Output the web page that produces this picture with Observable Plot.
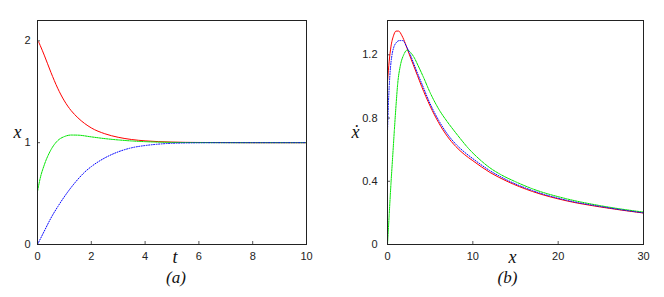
<!DOCTYPE html>
<html>
<head>
<meta charset="utf-8">
<script src="https://cdn.jsdelivr.net/npm/d3@7"></script>
<script src="https://cdn.jsdelivr.net/npm/@observablehq/plot@0.6"></script>
<style>
  html, body { margin: 0; padding: 0; background: #fff; }
  #wrap { width: 664px; height: 297px; display: flex; }
  #wrap svg { display: block; }
</style>
</head>
<body>
<div id="wrap"></div>
<script>
// ---- Panel (a): x versus t ----
const tRed   = [0, 0.05, 0.1, 0.25, 0.5, 0.75, 1, 1.25, 1.5, 2, 2.5, 3, 3.5, 4, 5, 6, 8, 10];
const xRed   = [2.0, 1.985, 1.955, 1.86, 1.69, 1.535, 1.41, 1.315, 1.245, 1.145, 1.088, 1.053, 1.031, 1.018, 1.006, 1.002, 1.0, 1.0];
const tGreen = [0, 0.1, 0.25, 0.5, 0.75, 1, 1.25, 1.5, 2, 2.5, 3, 3.5, 4, 5, 6, 8, 10];
const xGreen = [0.52, 0.65, 0.78, 0.93, 1.02, 1.06, 1.075, 1.074, 1.057, 1.04, 1.027, 1.017, 1.01, 1.003, 1.001, 1.0, 1.0];
const tBlue  = [0, 0.25, 0.5, 0.75, 1, 1.25, 1.5, 1.75, 2, 2.5, 3, 3.5, 4, 4.5, 5, 6, 7, 8, 10];
const xBlue  = [0, 0.13, 0.26, 0.37, 0.47, 0.56, 0.64, 0.71, 0.765, 0.85, 0.91, 0.95, 0.972, 0.986, 0.994, 0.999, 1.0, 1.0, 1.0];
const ticksTA = [0, 2, 4, 6, 8, 10];
const ticksXA = [0, 1, 2];

// ---- Panel (b): xdot versus x ----
const xbRed   = [0, 0.2, 0.4, 0.7, 1.0, 1.3, 1.7, 2.1, 2.5, 3, 3.5, 4, 4.5, 5, 6, 7, 8, 9, 10, 12, 14, 17, 21, 25, 30];
const vRed    = [1.03, 1.16, 1.25, 1.32, 1.35, 1.35, 1.32, 1.27, 1.21, 1.14, 1.07, 1.0, 0.935, 0.875, 0.77, 0.685, 0.62, 0.57, 0.53, 0.456, 0.400, 0.335, 0.276, 0.237, 0.199];
const xbBlue  = [0, 0.1, 0.2, 0.35, 0.5, 0.75, 1, 1.4, 1.8, 2.2, 2.6, 3, 3.5, 4, 5, 6, 7, 8, 9, 10, 12, 14, 17, 21, 25, 30];
const vBlue   = [0.71, 0.88, 1.0, 1.12, 1.19, 1.25, 1.275, 1.29, 1.29, 1.255, 1.21, 1.155, 1.085, 1.02, 0.89, 0.785, 0.70, 0.635, 0.585, 0.543, 0.467, 0.408, 0.341, 0.28, 0.24, 0.2];
const xbGreen = [0, 0.2, 0.4, 0.6, 0.8, 1.0, 1.2, 1.5, 1.9, 2.3, 2.7, 3.1, 3.6, 4.2, 5, 6, 7, 7.77, 8.5, 9.5, 10.7, 12, 13.25, 15, 17, 21, 25, 30];
const vGreen  = [0, 0.19, 0.38, 0.55, 0.72, 0.88, 1.02, 1.13, 1.2, 1.23, 1.215, 1.185, 1.13, 1.06, 0.96, 0.857, 0.777, 0.722, 0.672, 0.607, 0.543, 0.485, 0.443, 0.397, 0.352, 0.289, 0.245, 0.205];
const ticksXB = [0, 10, 20, 30];
const ticksVB = [0, 0.4, 0.8, 1.2];

const zip = (xs, ys) => xs.map((x, i) => ({x, y: ys[i]}));

const RED = "#ff0000", GREEN = "#00e600", BLUE = "#0000ff";
const serif = "'Liberation Serif', 'DejaVu Serif', serif";

function panel(opts) {
  const {W, mL, mR, mT, mB, xDom, yDom, xt, yt, series, ylab, xlab, cap, ypad, ylabDx, xlabDx, capDx} = opts;
  const H = 297;
  const fw = W - mL - mR, fh = H - mT - mB;
  return Plot.plot({
    width: W, height: H,
    marginLeft: mL, marginRight: mR, marginTop: mT, marginBottom: mB,
    x: {domain: xDom},
    y: {domain: yDom},
    style: {fontFamily: "'Liberation Sans', Arial, sans-serif", fontSize: "11px", color: "#222", background: "white", overflow: "visible"},
    marks: [
      Plot.tickX(xt, {x: d => d, insetTop: fh - 3, stroke: "#555"}),
      Plot.tickY(yt, {y: d => d, insetRight: fw - 3, stroke: "#555"}),
      ...series.map(s => Plot.line(s.data, {x: "x", y: "y", stroke: s.color, strokeWidth: 1, strokeDasharray: s.dash, curve: "monotone-x"})),
      Plot.frame({stroke: "#222", strokeWidth: 1}),
      Plot.axisX(xt, {tickSize: 0, tickPadding: 8, label: null, fontSize: 11, tickFormat: d => String(d)}),
      Plot.axisY(yt, {tickSize: 0, tickPadding: ypad, label: null, fontSize: 11, tickFormat: d => String(d)}),
      Plot.text([ylab], {text: d => d, frameAnchor: "left", dx: ylabDx, fontFamily: serif, fontStyle: "italic", fontSize: 18, fill: "#111"}),
      Plot.text([xlab], {text: d => d, frameAnchor: "bottom", dx: xlabDx, dy: 18, fontFamily: serif, fontStyle: "italic", fontSize: 18, fill: "#111"}),
      Plot.text([cap], {text: d => d, frameAnchor: "bottom", dx: capDx, dy: 38, fontFamily: serif, fontStyle: "italic", fontSize: 17, fill: "#111"})
    ]
  });
}

const wrap = document.getElementById("wrap");
wrap.append(panel({
  W: 332, mL: 37, mR: 26, mT: 20, mB: 53,
  xDom: [0, 10], yDom: [0, 2.2], xt: ticksTA, yt: ticksXA, ypad: 7,
  series: [
    {data: zip(tRed, xRed), color: RED, dash: null},
    {data: zip(tGreen, xGreen), color: GREEN, dash: "2.5,1"},
    {data: zip(tBlue, xBlue), color: BLUE, dash: "1,1.5"}
  ],
  ylab: "x", xlab: "t", cap: "(a)", ylabDx: -24, xlabDx: 3, capDx: 4
}));
wrap.append(panel({
  W: 332, mL: 55, mR: 21, mT: 20, mB: 53,
  xDom: [0, 30], yDom: [0, 1.417], xt: ticksXB, yt: ticksVB, ypad: 10,
  series: [
    {data: zip(xbRed, vRed), color: RED, dash: null},
    {data: zip(xbGreen, vGreen), color: GREEN, dash: "2.5,1"},
    {data: zip(xbBlue, vBlue), color: BLUE, dash: "1,1.5"}
  ],
  ylab: "ẋ", xlab: "x", cap: "(b)", ylabDx: -36, xlabDx: -3, capDx: -8
}));
</script>
</body>
</html>
